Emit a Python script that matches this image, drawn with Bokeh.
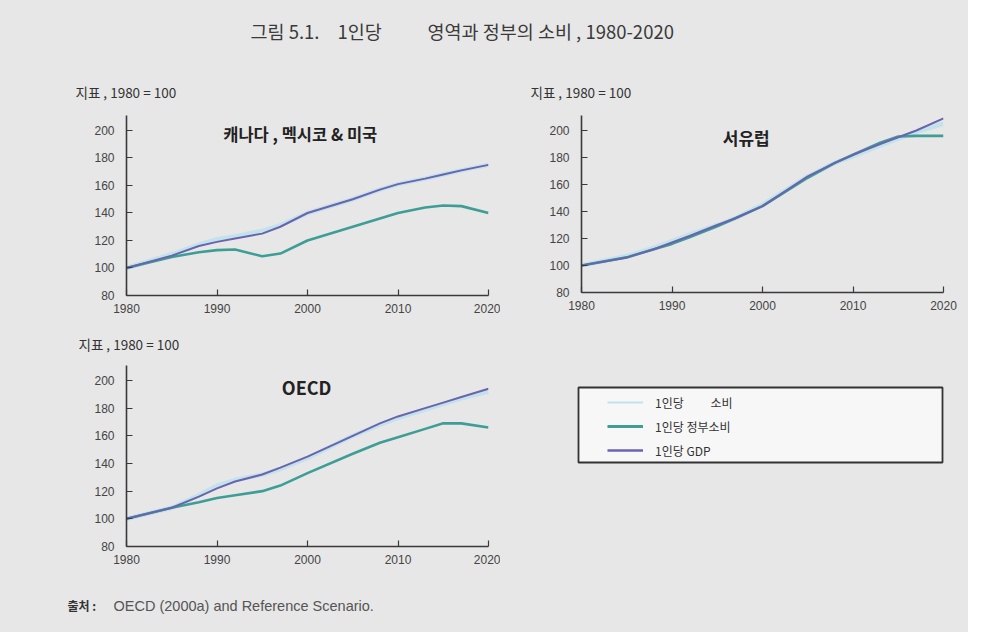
from bokeh.plotting import figure
from bokeh.layouts import column, row
from bokeh.models import Range1d, FixedTicker, Label, Legend, LegendItem, BoxAnnotation
from bokeh.embed import file_html
from bokeh.resources import INLINE

# ---------------- data ----------------
years = [1980, 1985, 1988, 1990, 1992, 1995, 1997, 2000, 2005, 2008, 2010, 2013, 2015, 2017, 2020]

na_gdp  = [100, 109, 116, 119, 121.5, 125, 130, 140, 150, 157, 161, 165, 168, 171, 175]
na_cons = [100, 110, 117, 121, 123, 127, 131, 140, 150, 157, 161, 165, 168, 171, 175]
na_gov  = [100, 108, 111.5, 113, 113.5, 108.5, 110.5, 120, 130, 136, 140, 144, 145.5, 145, 140]

we_gdp  = [100, 106, 112, 117, 122, 130, 135, 144, 166, 176, 182, 190, 195, 200, 209]
we_cons = [100, 107, 113, 118, 123, 130, 135, 145, 166, 176, 181, 189, 194, 199, 205]
we_gov  = [100, 106, 112, 116, 121, 129, 135, 144, 165, 176, 182, 191, 195.5, 196, 196]

oe_gdp  = [100, 108, 116, 122, 127, 132, 137, 145, 160, 169, 174, 180, 184, 188, 194]
oe_cons = [100, 108, 117, 124, 128, 132, 136, 144, 160, 168, 173, 179, 183, 187, 192]
oe_gov  = [100, 108, 112, 115, 117, 120, 124, 133, 147, 155, 159, 165, 169, 169, 166]

x_ticks = [1980, 1990, 2000, 2010, 2020]
y_ticks = [80, 100, 120, 140, 160, 180, 200]

title_parts = ["그림 5.1.", "1인당", "영역과 정부의 소비 , 1980-2020"]
panel_titles = ["캐나다 , 멕시코 & 미국", "서유럽", "OECD"]
y_label = "지표 , 1980 = 100"
series_labels = ["1인당 \u3000\u3000소비", "1인당 정부소비", "1인당 GDP"]
source_head = "출처 :"
source_text = "OECD (2000a) and Reference Scenario."

# ---------------- style ----------------
BG = "#e7e7e7"
C_CONS = "#c2e2ec"
C_GOV = "#3e9e96"
C_GDP = "#6a64ae"
TXT = "#333333"
KFONT = "Noto Sans CJK KR"


def blank(w, h):
    p = figure(width=w, height=h, x_range=Range1d(0, w), y_range=Range1d(0, h),
               x_axis_type=None, y_axis_type=None, toolbar_location=None,
               output_backend="svg", min_border=0, frame_align=False)
    p.grid.visible = False
    p.background_fill_color = BG
    p.border_fill_color = BG
    p.outline_line_color = None
    return p


def strip(w, h, x, y):
    s = blank(w, h)
    s.add_layout(Label(x=x, y=y, text=y_label, text_font=KFONT, text_font_size="13.5px",
                       text_color=TXT, text_baseline="middle"))
    return s


def panel(w, h, bl, br, bt, bb, ytop, gdp, cons, gov, ptitle, pt_x, pt_y, pt_size):
    p = figure(width=w, height=h, x_range=Range1d(1980, 2020), y_range=Range1d(80, ytop),
               toolbar_location=None, output_backend="svg", frame_align=False,
               min_border_left=bl, min_border_right=br, min_border_top=bt, min_border_bottom=bb)
    p.grid.visible = False
    p.background_fill_color = BG
    p.border_fill_color = BG
    p.outline_line_color = None
    for ax in (p.xaxis[0], p.yaxis[0]):
        ax.axis_line_color = "#3a3a3a"
        ax.axis_line_width = 1.6
        ax.major_tick_line_color = "#3a3a3a"
        ax.major_tick_line_width = 1.2
        ax.major_tick_in = 6
        ax.major_tick_out = 0
        ax.minor_tick_line_color = None
        ax.major_label_text_font = "Liberation Sans"
        ax.major_label_text_font_size = "12px"
        ax.major_label_text_color = "#444444"
    p.xaxis[0].ticker = FixedTicker(ticks=x_ticks)
    p.yaxis[0].ticker = FixedTicker(ticks=y_ticks)
    p.xaxis[0].major_label_standoff = 8
    p.yaxis[0].major_label_standoff = 12

    p.line(years, cons, line_color=C_CONS, line_width=4.5)
    p.line(years, gov, line_color=C_GOV, line_width=2.6)
    p.line(years, gdp, line_color=C_GDP, line_width=2)

    p.add_layout(Label(x=pt_x, y=pt_y, text=ptitle, text_font=KFONT, text_font_style="bold",
                       text_font_size=pt_size, text_color="#222222", text_align="center",
                       text_baseline="middle"))
    return p


# ---------------- header ----------------
header = blank(968, 68)
for txt, x in zip(title_parts, [250, 337, 427]):
    header.add_layout(Label(x=x, y=38, text=txt, text_font=KFONT, text_font_size="18.5px",
                            text_color="#3a3a3a", text_baseline="middle"))

# ---------------- panels ----------------
s1 = strip(500, 40, 75, 17)
p1 = panel(500, 212, 126, 12, 7, 25, 210.9, na_gdp, na_cons, na_gov, panel_titles[0], 1999.2, 197.8, "16.5px")
s2 = strip(468, 40, 30, 17)
p2 = panel(468, 212, 81, 25, 7, 28, 211.1, we_gdp, we_cons, we_gov, panel_titles[1], 1998.2, 194.8, "17px")
s3 = strip(500, 35, 78, 12)
p3 = panel(500, 235, 126, 12, 10, 44, 210.8, oe_gdp, oe_cons, oe_gov, panel_titles[2], 1999.9, 195.0, "18px")

# ---------------- legend ----------------
leg = blank(468, 270)
leg.add_layout(BoxAnnotation(left=78, right=442, top=203, bottom=128, fill_color="#f7f7f7",
                             fill_alpha=1, line_color="#333333", line_alpha=1, line_width=1.8,
                             level="underlay"))
# legend renderers reuse the OECD series; they fall outside this helper plot's range
r_cons = leg.line(years, oe_cons, line_color=C_CONS, line_width=2)
r_gov = leg.line(years, oe_gov, line_color=C_GOV, line_width=3)
r_gdp = leg.line(years, oe_gdp, line_color=C_GDP, line_width=2.5)
legend = Legend(items=[LegendItem(label=series_labels[0], renderers=[r_cons]),
                       LegendItem(label=series_labels[1], renderers=[r_gov]),
                       LegendItem(label=series_labels[2], renderers=[r_gdp])],
                location=(107, 131), padding=0, margin=0, spacing=6,
                glyph_width=36, glyph_height=18, label_height=18, label_standoff=12,
                label_text_font=KFONT, label_text_font_size="12px", label_text_color=TXT,
                border_line_color=None, background_fill_alpha=0)
leg.add_layout(legend)

# ---------------- footer ----------------
footer = blank(968, 42)
footer.add_layout(Label(x=67, y=27, text=source_head, text_font=KFONT, text_font_style="bold",
                        text_font_size="12px", text_color="#333333", text_baseline="middle"))
footer.add_layout(Label(x=113, y=27, text=source_text, text_font="Liberation Sans",
                        text_font_size="14.5px", text_color="#555555", text_baseline="middle"))

st = {"background-color": BG}
layout = column(header,
                row(column(s1, p1, styles=st), column(s2, p2, styles=st), styles=st),
                row(column(s3, p3, styles=st), leg, styles=st),
                footer, styles=st)

open("out.html", "w").write(file_html(layout, INLINE))
